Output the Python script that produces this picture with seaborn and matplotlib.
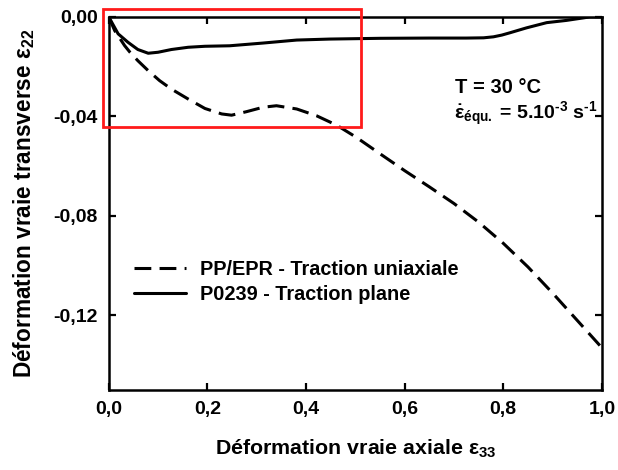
import matplotlib
matplotlib.use("Agg")
import matplotlib.pyplot as plt
import matplotlib.patches as mpatches
import seaborn as sns
import pandas as pd

# ---- data ----
pp_x = [0.0, 0.012, 0.032, 0.043, 0.059, 0.080, 0.103, 0.127, 0.161, 0.195, 0.229, 0.249,
        0.279, 0.313, 0.340, 0.381, 0.421, 0.462, 0.502, 0.55, 0.60, 0.65, 0.70, 0.75,
        0.80, 0.85, 0.90, 0.95, 1.0]
pp_y = [0.0, -0.0055, -0.0115, -0.0142, -0.0176, -0.0216, -0.0256, -0.0290, -0.0330,
        -0.0368, -0.0390, -0.0395, -0.0381, -0.0363, -0.0357, -0.0370, -0.0397, -0.0435,
        -0.0484, -0.0550, -0.0618, -0.0683, -0.0750, -0.0825, -0.0910, -0.1005, -0.1110,
        -0.1220, -0.1330]
pl_x = [0.0, 0.019, 0.039, 0.059, 0.080, 0.100, 0.127, 0.161, 0.195, 0.245, 0.313, 0.381,
        0.448, 0.55, 0.65, 0.725, 0.76, 0.78, 0.797, 0.813, 0.847, 0.888, 0.928, 0.962,
        0.975, 1.0]
pl_y = [0.0, -0.0068, -0.0102, -0.0131, -0.0146, -0.0142, -0.0131, -0.0122, -0.0118,
        -0.0116, -0.0105, -0.0093, -0.0089, -0.0086, -0.0085, -0.0085, -0.0084, -0.0080,
        -0.0073, -0.0064, -0.0044, -0.0023, -0.0014, -0.0004, 0.0, 0.0]
series_names = ["PP/EPR - Traction uniaxiale", "P0239 - Traction plane"]
x_ticks = [0.0, 0.2, 0.4, 0.6, 0.8, 1.0]
x_tick_labels = ["0,0", "0,2", "0,4", "0,6", "0,8", "1,0"]
y_ticks = [0.0, -0.04, -0.08, -0.12]
y_tick_labels = ["0,00", "-0,04", "-0,08", "-0,12"]

df = pd.concat([
    pd.DataFrame({"x": pp_x, "y": pp_y, "serie": series_names[0]}),
    pd.DataFrame({"x": pl_x, "y": pl_y, "serie": series_names[1]}),
], ignore_index=True)

sns.set_theme(style="ticks")
plt.rcParams["font.family"] = ["Liberation Sans", "DejaVu Sans"]
plt.rcParams["font.weight"] = "bold"
plt.rcParams["text.color"] = "black"
plt.rcParams["axes.labelcolor"] = "black"
plt.rcParams["xtick.color"] = "black"
plt.rcParams["ytick.color"] = "black"
plt.rcParams["mathtext.fontset"] = "custom"
plt.rcParams["mathtext.rm"] = "Liberation Sans:bold"
plt.rcParams["mathtext.it"] = "Liberation Sans:bold"
plt.rcParams["mathtext.bf"] = "Liberation Sans:bold"

fig = plt.figure(figsize=(6.18, 4.70), dpi=100)
ax = fig.add_axes([0.176, 0.170, 0.798, 0.794])

sns.lineplot(data=df, x="x", y="y", hue="serie", style="serie",
             palette=["black", "black"], dashes=[(5.5, 2.7), ""],
             linewidth=2.2, sort=False, estimator=None, ax=ax)

ax.set_xlim(0, 1.0)
ax.set_ylim(-0.15, 0.0)
ax.set_xticks(x_ticks)
ax.set_xticklabels(x_tick_labels)
ax.set_yticks(y_ticks)
ax.set_yticklabels(y_tick_labels)
ax.tick_params(direction="in", length=5, width=1.6, top=True, right=True,
               labelsize=14, pad=8, colors="black")
for lab in ax.get_xticklabels() + ax.get_yticklabels():
    lab.set_fontweight("bold")
for sp in ax.spines.values():
    sp.set_linewidth(1.8)
    sp.set_color("black")

ax.set_xlabel(r"Déformation vraie axiale ε$_{33}$", fontsize=15.4, fontweight="bold", labelpad=14)
ax.set_ylabel(r"Déformation vraie transverse ε$_{22}$", fontsize=16.3, fontweight="bold", labelpad=12)

ax.text(0.703, -0.0285, "T = 30 °C", fontsize=14.5, fontweight="bold", va="center", ha="left")
ax.text(0.701, -0.0390, r"$\dot{ε}_{équ.}$ = 5.10$^{\text{-3}}$ s$^{\text{-1}}$", fontsize=14,
        fontweight="bold", va="center", ha="left")

rect = mpatches.Rectangle((-0.012, -0.0442), 0.523, 0.0474, fill=False,
                          edgecolor="#ff1a1a", linewidth=2, clip_on=False,
                          transform=ax.transData, zorder=5)
ax.add_patch(rect)

leg = ax.legend(loc="center left", bbox_to_anchor=(0.036, 0.29), frameon=False,
                handlelength=2.6, fontsize=14.3, title=None, borderaxespad=0,
                labelspacing=0.28, handletextpad=0.7)
for t in leg.get_texts():
    t.set_fontweight("bold")

fig.savefig("out.png", dpi=100)
